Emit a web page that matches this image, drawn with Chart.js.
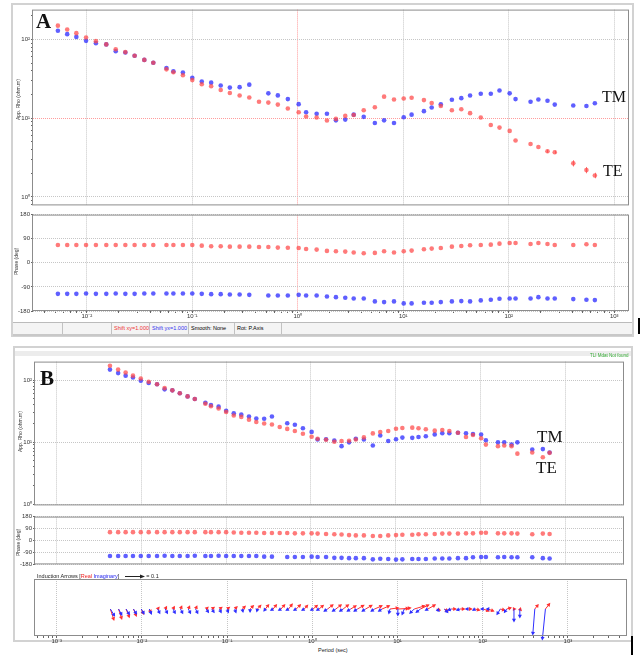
<!DOCTYPE html>
<html lang="en">
<head>
<meta charset="UTF-8">
<title>MT sounding curves A / B</title>
<script src="https://cdn.jsdelivr.net/npm/chart.js"></script>
<style>
  body { margin: 0; width: 642px; height: 655px; position: relative; overflow: hidden; background: #fff;
         font-family: "Liberation Sans", Arial, sans-serif; }
  canvas, .box, .txt { position: absolute; }
  .frame { position: absolute; border: 2px solid #d2d2d2; box-sizing: border-box; }
  .txt { white-space: nowrap; color: #222; }
  .big { font-family: "Liberation Serif", "DejaVu Serif", serif; color: #111; }
  .vt { transform-origin: 0 0; transform: rotate(-90deg); font-size: 5px; color: #333; }
  .status { position: absolute; left: 13px; top: 322px; width: 619px; height: 11px; display: flex;
            font-size: 5.5px; line-height: 11px; background: #f4f4f4; border-top: 1px solid #bbb; border-bottom: 2px solid #c8c8c8; }
  .status div { border-right: 1px solid #c2c2c2; padding-left: 2px; box-sizing: border-box; }
</style>
</head>
<body>

<div class="frame" style="left:11px;top:3px;width:623px;height:334px"></div>
<div class="frame" style="left:13px;top:346px;width:620px;height:296px"></div>
<div class="box" style="left:15px;top:351px;width:616px;height:5px;background:#ececec"></div>

<canvas id="rhoA" width="620" height="205" style="left:13px;top:5px"></canvas>
<canvas id="phA" width="620" height="112" style="left:13px;top:210px"></canvas>
<canvas id="rhoB" width="615" height="153" style="left:13px;top:357px"></canvas>
<canvas id="phB" width="615" height="57" style="left:13px;top:512px"></canvas>
<canvas id="tipB" width="615" height="70" style="left:13px;top:577px"></canvas>

<div class="status">
  <div style="width:50px"></div>
  <div style="width:49px"></div>
  <div style="width:38px;color:#e33">Shift xy=1.000</div>
  <div style="width:39px;color:#33e">Shift yx=1.000</div>
  <div style="width:46px">Smooth: None</div>
  <div style="width:47px">Rot: P.Axis</div>
  <div style="flex:1;border:none"></div>
</div>

<div class="txt big" style="left:36px;top:9px;font-size:21px;font-weight:bold">A</div>
<div class="txt big" style="left:40px;top:366px;font-size:21px;font-weight:bold">B</div>
<div class="txt big" style="left:602px;top:88px;font-size:16px">TM</div>
<div class="txt big" style="left:603px;top:162px;font-size:16px">TE</div>
<div class="txt big" style="left:537px;top:427px;font-size:17px">TM</div>
<div class="txt big" style="left:536px;top:458px;font-size:17px">TE</div>

<div class="txt vt" style="left:15px;top:120px">App. Rho (ohm.m)</div>
<div class="txt vt" style="left:13px;top:275px">Phase (deg)</div>
<div class="txt vt" style="left:17px;top:452px">App. Rho (ohm.m)</div>
<div class="txt vt" style="left:15px;top:556px">Phase (deg)</div>

<div class="txt" style="left:590px;top:353px;font-size:4.5px;color:#3a3">TLI Mdat Not found</div>
<div class="txt" style="left:37px;top:573px;font-size:5.5px">Induction Arrows [<span style="color:#e22">Real</span> <span style="color:#22e">Imaginary</span>]
  <svg width="20" height="5" style="vertical-align:middle;margin-left:4px"><line x1="0" y1="2.5" x2="17" y2="2.5" stroke="#222" stroke-width="1"/><polygon points="20,2.5 15,0.5 15,4.5" fill="#222"/></svg> = 0.1</div>
<div class="txt" style="left:318px;top:647px;font-size:5.5px">Period (sec)</div>

<div class="box" style="left:638px;top:318px;width:2px;height:16px;background:#000"></div>
<div class="box" style="left:631px;top:636px;width:2px;height:19px;background:#000"></div>

<script>
// periods (s) shared by both soundings
const period = [0.00426, 0.00532, 0.00652, 0.00796, 0.00984, 0.0122, 0.0153, 0.0188, 0.0232, 0.0284,
  0.0351, 0.0427, 0.0569, 0.0662, 0.0815, 0.100, 0.123, 0.151, 0.186, 0.227,
  0.281, 0.347, 0.429, 0.526, 0.647, 0.805, 1.02, 1.20, 1.51, 1.89,
  2.30, 2.82, 3.39, 4.22, 5.38, 6.58, 8.17, 10.1, 12.0, 15.7,
  18.6, 22.7, 28.9, 35.5, 43.0, 54.3, 67.6, 81.7, 102, 116,
  161, 191, 233, 273, 409, 545, 655];

// site A : apparent resistivity (ohm.m) and phase (deg)
const rhoTE_A = [null, 150, 134, 120.5, 105.9, 95.3, 86.7, 75.3, 69.2, 62.2,
  55.1, 50.6, 41.8, 38.4, 35.2, 30.5, 27.0, 25.5, 22.8, 20.9,
  19.4, 18.3, 16.2, 15.8, 14.9, 13.3, 11.9, 10.5, 10.2, 9.35,
  9.8, 10.7, 11.0, 12.6, 13.8, 18.8, 17.3, 17.8, 18.2, 17.0,
  15.6, 14.3, 12.6, 13.0, 11.6, 10.2, 8.2, 7.6, 6.9, 5.2,
  4.7, 4.3, 3.8, 3.7, 2.67, 2.19, 1.87];
const rhoTM_A = [null, 129, 117, 108, 96.2, 89.9, 86.7, 71.1, 68.4, 62.2,
  55.1, 50.6, 43.4, 39.4, 38.0, 32.7, 29.2, 28.3, 26.0, 24.5,
  24.8, 26.7, null, 20.7, 19.5, 17.5, 15.1, 11.9, 11.4, 11.4,
  9.4, 9.6, 11.1, 10.4, 8.7, 9.4, 8.7, 10.3, 11.1, 12.3,
  13.7, 15.0, 17.2, 18.0, 19.4, 20.5, 20.5, 22.5, 20.7, 17.5,
  16.2, 17.3, 16.7, 14.9, 14.5, 14.3, 15.5];
const errTE_A = [null, null, null, null, null, null, null, null, null, null,
  null, null, null, null, null, null, null, null, null, null,
  null, null, null, null, null, null, null, null, null, null,
  null, null, null, null, null, null, null, null, null, null,
  null, null, null, null, null, null, null, null, null, null,
  null, null, 0.02, 0.02, 0.04, 0.04, 0.035];
const phTE_A = [null, 66.6, 66.6, 66.6, 66.6, 66.6, 66.6, 66.6, 66.6, 66.6,
  66.6, 66.6, 66.6, 66.6, 66.6, 66.6, 64.1, 61.6, 61.6, 60.4,
  60.4, 60.4, 59.2, 59.2, 56.7, 56, 55.5, 51.8, 49.3, 44.4,
  43.2, 41.9, 38.2, 35.8, 37, 43.2, 38.2, 43.2, 45.6, 50.5,
  53, 55.5, 60.4, 62.9, 65.3, 66.6, 67.8, 71.5, 74, 74,
  70.3, 74, 70.3, 66.6, 66.6, 69, 66.6];
const phTM_A = [null, -115.9, -115.9, -115.9, -114.7, -115.9, -115.9, -114.7, -115.9, -115.9,
  -114.7, -114.7, -114.7, -114.7, -114.7, -114.7, -115.9, -117.1, -117.1, -118.4,
  -118.4, -119.6, null, -122, -122, -122, -119.6, -122, -122, -125.8,
  -128.2, -130.7, -133.2, -133.2, -144.2, -146.7, -144.2, -151.6, -151.6, -149.2,
  -149.2, -146.7, -144.2, -143, -144.2, -140.5, -138.1, -134.4, -133.2, -133.2,
  -133.2, -128.2, -133.2, -133.2, -135.6, -138.1, -139.3];

// site B
const rhoTE_B = [170.6, 147.9, 133, 118, 106.2, 94.2, 85.7, 74.3, 68.4, 61.5,
  54.6, 49.7, 41.6, 37.8, 34.8, 30.5, 26.8, 25.5, 23.0, 21.1,
  19.9, 19.2, 17.5, 16.3, 15.1, 13.6, 12.2, 11.3, 10.9, 10.1,
  10.4, 10.5, 11.0, 11.9, 13.8, 14.5, 15.1, 16.4, 16.9, 17.1,
  16.7, 16.1, 15.3, 15.7, 15.1, 14.1, 12.1, 13.0, 11.5, 9.1,
  8.6, 8.8, 8.6, 6.5, 6.8, 5.7, 6.7];
const rhoTM_B = [147.9, 129.7, 118, 109.9, 97.7, 89.9, 85.7, 71.0, 68.4, 61.5,
  54.6, 49.7, 43.1, 39.6, 37.3, 32.0, 29.1, 27.7, 25.8, 24.0,
  23.8, 25.8, null, 20.1, 19.0, 16.7, 14.6, 11.0, 11.1, 10.6,
  8.6, 9.9, 11.3, 11.0, 8.8, 12.8, 10.4, 11.1, 11.8, 11.7,
  12.1, 12.4, 13.3, 13.9, 13.9, 14.1, 13.9, 13.5, 13.2, 10.7,
  9.9, 9.9, 9.1, 9.9, 7.6, 7.7, 6.8];
const phTE_B = [63, 63, 63, 63, 63, 63, 63, 63, 63, 63,
  63, 63, 63, 63, 63, 63, 60.8, 58.5, 58.5, 58.5,
  56.3, 56.3, 56.3, 56.3, 54, 54, 54, 51.8, 49.5, 47.3,
  45, 40.5, 38.3, 38.3, 33.8, 33.8, 38.3, 40.5, 42.8, 42.8,
  47.3, 47.3, 49.5, 51.8, 51.8, 51.8, 54, 54, 58.5, 58.5,
  54, 54, 54, 51.8, 47.3, 51.8, 49.5];
const phTM_B = [-117, -117, -117, -117, -117, -117, -117, -114.8, -117, -117,
  -117, -114.8, -117, -117, -114.8, -117, -117, -117, -117, -117,
  -121.5, -121.5, null, -123.8, -123.8, -123.8, -121.5, -123.8, -123.8, -130.5,
  -130.5, -132.8, -132.8, -132.8, -141.8, -137.3, -139.5, -144, -141.8, -139.5,
  -139.5, -139.5, -135, -135, -135, -132.8, -132.8, -126, -123.8, -123.8,
  -126, -123.8, -126, -126, -126, -132.8, -135];

// site B induction arrows (east / north components)
const reU = [0.019, 0.017, 0.017, 0.015, 0.011, 0.008, 0.006, 0.006, 0.006, 0.006,
  0.006, 0.006, 0.008, 0.011, 0.011, 0.011, 0.011, 0.014, 0.017, 0.017,
  0.017, 0.017, 0.019, 0.019, 0.022, 0.017, 0.022, 0.022, 0.028, 0.028,
  0.028, 0.028, 0.033, 0.033, 0.039, 0.039, 0.044, 0.056, 0.033, 0.056,
  0.044, 0.039, 0.017, 0.017, 0.022, 0.022, 0.017, 0.022, 0.028, 0.028,
  0.022, 0.022, 0.006, 0.006, 0.017, 0.022, null];
const reV = [-0.058, -0.053, -0.044, -0.036, -0.025, -0.017, 0.008, 0.011, 0.011, 0.014,
  0.014, 0.014, 0.008, 0.008, 0.008, 0.008, 0.011, 0.014, 0.017, 0.019,
  0.022, 0.022, 0.022, 0.025, 0.022, 0.019, 0.019, 0.019, 0.022, 0.022,
  0.022, 0.017, 0.019, 0.019, 0.017, 0.017, 0.006, 0.003, 0.006, 0.017,
  0.022, 0.022, -0.006, -0.011, 0, 0, 0, -0.006, -0.011, -0.011,
  -0.006, 0.006, 0, -0.006, 0.022, 0.028, null];
const imU = [0.022, 0.017, 0.017, 0.015, 0.014, 0.011, 0.011, 0.011, 0.011, 0.011,
  0.011, 0.011, 0.011, 0.011, 0.008, 0.006, 0.006, 0.003, 0, -0.003,
  -0.006, -0.011, -0.011, -0.011, -0.011, -0.011, -0.011, -0.011, -0.017, -0.017,
  -0.017, -0.017, -0.017, -0.017, -0.017, -0.017, -0.006, 0, -0.011, -0.022,
  -0.022, -0.011, 0.011, 0.017, -0.017, -0.017, -0.011, -0.011, -0.011, -0.006,
  -0.017, -0.011, 0, 0, -0.011, -0.017, null];
const imV = [-0.036, -0.031, -0.028, -0.025, -0.025, -0.025, -0.022, -0.022, -0.022, -0.022,
  -0.022, -0.022, -0.017, -0.017, -0.017, -0.017, -0.017, -0.014, -0.014, -0.011,
  -0.008, -0.006, -0.006, -0.006, -0.006, -0.006, -0.006, -0.006, -0.011, -0.011,
  -0.011, -0.011, -0.011, -0.011, -0.011, -0.011, -0.022, -0.033, -0.028, -0.022,
  -0.017, -0.006, -0.011, -0.017, -0.006, -0.006, 0, -0.006, 0, 0,
  -0.028, -0.017, -0.067, -0.044, -0.139, -0.167, null];

const xDecades = [1e-3, 1e-2, 1e-1, 1, 1e1, 1e2, 1e3];
const xDecadeLabels = ['10⁻³', '10⁻²', '10⁻¹', '10⁰', '10¹', '10²', '10³'];
const rhoDecades = [1, 10, 100];
const rhoDecadeLabels = ['10⁰', '10¹', '10²'];
const phaseTicks = [180, 90, 0, -90, -180];

const RED = 'rgba(255,70,70,0.72)', BLUE = 'rgba(50,50,255,0.78)';
const GRID = '#c6c6c6', REDGRID = '#ff9c9c';

const isDecade = v => Math.abs(Math.log10(v) - Math.round(Math.log10(v))) < 1e-9;
function logTicks(min, max) {
  const out = [];
  for (let e = Math.floor(Math.log10(min)); e <= Math.ceil(Math.log10(max)); e++)
    for (let k = 1; k < 10; k++) { const v = k * Math.pow(10, e); if (v >= min && v <= max) out.push({value: v}); }
  return out;
}
function labelOf(v, decs, labels) {
  const i = decs.findIndex(d => Math.abs(Math.log10(d) - Math.log10(v)) < 1e-9);
  return i < 0 ? '' : labels[i];
}
const tickFont = {family: 'Liberation Sans', size: 6};

function xAxis(min, max, redAt, showLabels) {
  return {
    type: 'logarithmic', min: min, max: max,
    afterBuildTicks: s => { s.ticks = logTicks(min, max); },
    afterFit: s => { s.height = showLabels ? 11 : 0; },
    ticks: { display: showLabels, autoSkip: false, maxRotation: 0, padding: 0, font: tickFont, color: '#333',
             callback: v => labelOf(v, xDecades, xDecadeLabels) },
    grid: { drawTicks: showLabels, tickLength: 2, tickColor: '#666',
            color: c => !isDecade(c.tick.value) ? 'rgba(0,0,0,0)' : (redAt && Math.abs(c.tick.value - redAt) < 1e-9 ? REDGRID : GRID) },
    border: { display: false, dash: [1, 1] }
  };
}
function rhoAxis(min, max, redAt, w) {
  return {
    type: 'logarithmic', min: min, max: max,
    afterBuildTicks: s => { s.ticks = logTicks(min, max); },
    afterFit: s => { s.width = w; },
    ticks: { autoSkip: false, padding: 1, font: tickFont, color: '#333', callback: v => labelOf(v, rhoDecades, rhoDecadeLabels) },
    grid: { tickLength: 2, tickColor: '#666',
            color: c => !isDecade(c.tick.value) ? 'rgba(0,0,0,0)' : (redAt && Math.abs(c.tick.value - redAt) < 1e-9 ? REDGRID : GRID) },
    border: { display: false, dash: [1, 1] }
  };
}
function phaseAxis(w) {
  return {
    min: -180, max: 180,
    afterBuildTicks: s => { s.ticks = phaseTicks.map(v => ({value: v})); },
    afterFit: s => { s.width = w; },
    ticks: { autoSkip: false, padding: 1, font: tickFont, color: '#333' },
    grid: { tickLength: 2, tickColor: '#666', color: GRID },
    border: { display: false, dash: [1, 1] }
  };
}
function pts(ys) { return period.map((p, i) => ({x: p, y: ys[i]})); }
function ds(ys, col) {
  return { data: pts(ys), backgroundColor: col, borderColor: col, borderWidth: 0, pointRadius: 2.3 };
}

const areaFrame = {
  id: 'areaFrame',
  afterDraw(c) {
    const a = c.chartArea, g = c.ctx;
    g.save(); g.strokeStyle = '#8c8c8c'; g.lineWidth = 1;
    g.strokeRect(a.left - 0.5, a.top + 0.5, a.width, a.height - 1); g.restore();
  }
};
// vertical error bars on TE resistivity (log10 half-width)
const errBars = {
  id: 'errBars',
  afterDatasetsDraw(c, args, opts) {
    if (!opts.err) return;
    const {x, y} = c.scales, g = c.ctx;
    g.save(); g.strokeStyle = RED; g.lineWidth = 1;
    opts.err.forEach((e, i) => {
      if (e == null || opts.val[i] == null) return;
      const px = Math.round(x.getPixelForValue(period[i])) + 0.5;
      g.beginPath();
      g.moveTo(px, y.getPixelForValue(opts.val[i] * Math.pow(10, e)));
      g.lineTo(px, y.getPixelForValue(opts.val[i] / Math.pow(10, e)));
      g.stroke();
    });
    g.restore();
  }
};
// induction arrows drawn from the period position on the zero line
const arrows = {
  id: 'arrows',
  afterDatasetsDraw(c) {
    const {x, y} = c.scales, g = c.ctx;
    const y0 = y.getPixelForValue(0);
    const unit = y0 - y.getPixelForValue(1);
    g.save();
    [[reU, reV, '#ff3030'], [imU, imV, '#2f2fff']].forEach(([U, V, col]) => {
      g.strokeStyle = col; g.fillStyle = col; g.lineWidth = 1;
      period.forEach((p, i) => {
        if (U[i] == null) return;
        const x0 = x.getPixelForValue(p);
        const x1 = x0 + U[i] * unit, y1 = y0 - V[i] * unit;
        const ang = Math.atan2(y1 - y0, x1 - x0);
        g.beginPath(); g.moveTo(x0, y0); g.lineTo(x1, y1); g.stroke();
        g.beginPath();
        g.moveTo(x1 + Math.cos(ang) * 1.5, y1 + Math.sin(ang) * 1.5);
        g.lineTo(x1 + Math.cos(ang + 2.4) * 3, y1 + Math.sin(ang + 2.4) * 3);
        g.lineTo(x1 + Math.cos(ang - 2.4) * 3, y1 + Math.sin(ang - 2.4) * 3);
        g.closePath(); g.fill();
      });
    });
    g.restore();
  }
};

function makeChart(id, datasets, scales, padTop, extra) {
  return new Chart(document.getElementById(id), {
    type: 'scatter',
    data: { datasets: datasets },
    options: {
      responsive: false, animation: false, devicePixelRatio: 1,
      layout: { padding: { top: padTop, right: 1, bottom: 0, left: 0 } },
      plugins: Object.assign({ legend: { display: false }, tooltip: { enabled: false } }, extra || {}),
      scales: scales
    },
    plugins: [areaFrame, errBars, arrows].filter(p => (extra && extra[p.id]) || p.id === 'areaFrame')
  });
}

// panel A
const xA = [Math.pow(10, -2.51), Math.pow(10, 3.14)];
makeChart('rhoA', [ds(rhoTE_A, RED), ds(rhoTM_A, BLUE)],
  { x: xAxis(xA[0], xA[1], 1, false), y: rhoAxis(0.78, 240, 10, 20) }, 3,
  { errBars: { err: errTE_A, val: rhoTE_A } });
makeChart('phA', [ds(phTE_A, RED), ds(phTM_A, BLUE)],
  { x: xAxis(xA[0], xA[1], 1, true), y: phaseAxis(20) }, 2);

// panel B
const xB = [Math.pow(10, -3.255), Math.pow(10, 3.694)];
makeChart('rhoB', [ds(rhoTE_B, RED), ds(rhoTM_B, BLUE)],
  { x: xAxis(xB[0], xB[1], null, false), y: rhoAxis(0.95, 199, null, 22) }, 3);
makeChart('phB', [ds(phTE_B, RED), ds(phTM_B, BLUE)],
  { x: xAxis(xB[0], xB[1], null, false), y: phaseAxis(22) }, 3);
const tipY = { min: -0.15, max: 0.167, afterFit: s => { s.width = 22; }, ticks: { display: false },
               grid: { display: false }, border: { display: false } };
makeChart('tipB', [], { x: xAxis(xB[0], xB[1], null, true), y: tipY }, 2, { arrows: {} });
</script>
</body>
</html>
